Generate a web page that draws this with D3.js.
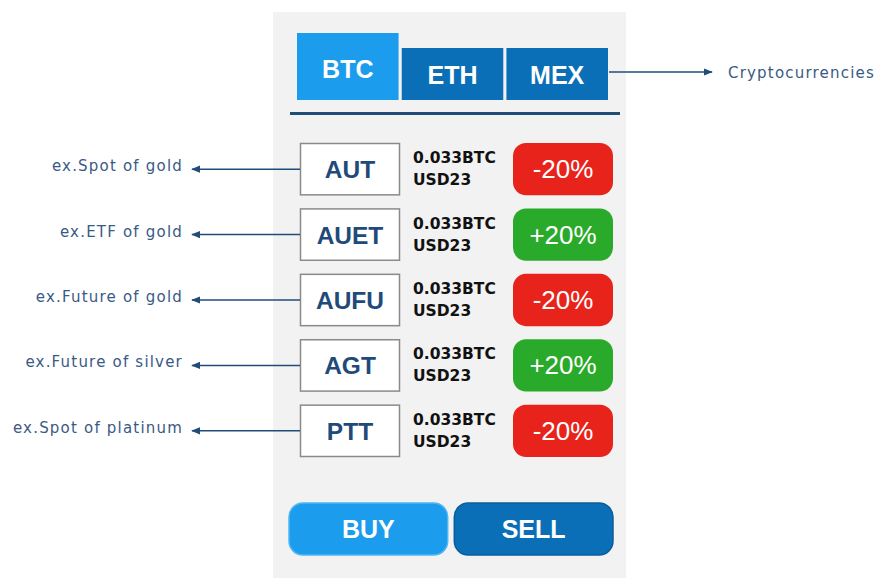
<!DOCTYPE html>
<html>
<head>
<meta charset="utf-8">
<script src="https://cdn.jsdelivr.net/npm/d3@7"></script>
<style>
  html, body { margin: 0; padding: 0; background: #fff; }
  svg text { font-family: "Liberation Sans", Arial, Helvetica, sans-serif; }
  svg text.note { font-family: "DejaVu Sans", sans-serif; }
  svg text.price { font-family: "DejaVu Sans", sans-serif; font-weight: bold; }
</style>
</head>
<body>
<div id="visualization"></div>
<script>
// data
const tabs = ["BTC", "ETH", "MEX"];
const activeTab = "BTC";
const symbols = ["AUT", "AUET", "AUFU", "AGT", "PTT"];
const labels = ["ex.Spot of gold", "ex.ETF of gold", "ex.Future of gold", "ex.Future of silver", "ex.Spot of platinum"];
const pricesBTC = ["0.033BTC", "0.033BTC", "0.033BTC", "0.033BTC", "0.033BTC"];
const pricesUSD = ["USD23", "USD23", "USD23", "USD23", "USD23"];
const changes = [-20, 20, -20, 20, -20];
const actions = ["BUY", "SELL"];
const tabNote = "Cryptocurrencies";

const width = 880, height = 578;
const lightBlue = "#1c9cec", darkBlue = "#0b6fb8", navy = "#1f4d78";

const svg = d3.select("#visualization")
    .append("svg")
        .attr("width", width)
        .attr("height", height);

// arrow head
svg.append("defs").append("marker")
    .attr("id", "arrow")
    .attr("viewBox", "0 0 10 10")
    .attr("refX", 9).attr("refY", 5)
    .attr("markerWidth", 9).attr("markerHeight", 9)
    .attr("markerUnits", "userSpaceOnUse")
    .attr("orient", "auto")
  .append("path")
    .attr("d", "M0,1 L10,5 L0,9 z")
    .attr("fill", navy);

// phone panel
svg.append("rect")
    .attr("x", 273).attr("y", 12)
    .attr("width", 353).attr("height", height - 12)
    .attr("fill", "#f2f2f2");

// tabs
const xTab = d3.scaleBand()
    .domain(tabs)
    .range([297, 608])
    .paddingInner(0.03);

const tab = svg.selectAll(".tab")
    .data(tabs)
    .join("g")
        .attr("class", "tab");

tab.append("rect")
    .attr("x", d => xTab(d))
    .attr("y", d => d === activeTab ? 33 : 48)
    .attr("width", xTab.bandwidth())
    .attr("height", d => d === activeTab ? 67 : 52)
    .attr("fill", d => d === activeTab ? lightBlue : darkBlue);

tab.append("text")
    .attr("x", d => xTab(d) + xTab.bandwidth() / 2)
    .attr("y", d => d === activeTab ? 78 : 84)
    .attr("text-anchor", "middle")
    .attr("fill", "#fff")
    .style("font-size", "25px")
    .style("font-weight", "bold")
    .text(d => d);

// underline
svg.append("rect")
    .attr("x", 290).attr("y", 112)
    .attr("width", 330).attr("height", 3)
    .attr("fill", navy);

// note for tabs
svg.append("line")
    .attr("x1", 609).attr("x2", 712)
    .attr("y1", 72).attr("y2", 72)
    .attr("stroke", navy)
    .attr("stroke-width", 1.5)
    .attr("marker-end", "url(#arrow)");

svg.append("text")
    .attr("class", "note")
    .attr("x", 728).attr("y", 78)
    .attr("fill", "#3a5a84")
    .style("font-size", "15px")
    .style("letter-spacing", "1.2px")
    .text(tabNote);

// rows
const yRow = d3.scaleBand()
    .domain(symbols)
    .range([143, 457])
    .paddingInner(0.2);

const rows = svg.selectAll(".row")
    .data(symbols.map((s, i) => ({
        symbol: s, label: labels[i], btc: pricesBTC[i], usd: pricesUSD[i], change: changes[i]
    })))
    .join("g")
        .attr("class", "row")
        .attr("transform", d => `translate(0, ${yRow(d.symbol)})`);

const bh = yRow.bandwidth();

rows.append("rect")
    .attr("x", 300.5).attr("y", 0.5)
    .attr("width", 99).attr("height", bh - 1)
    .attr("fill", "#fff")
    .attr("stroke", "#8a8a8a")
    .attr("stroke-width", 1.5);

rows.append("text")
    .attr("x", 350).attr("y", bh / 2 + 9)
    .attr("text-anchor", "middle")
    .attr("fill", "#1f4a7a")
    .style("font-size", "24.5px")
    .style("font-weight", "bold")
    .text(d => d.symbol);

rows.append("text")
    .attr("class", "price")
    .attr("x", 413).attr("y", bh / 2 - 6)
    .attr("fill", "#111")
    .style("font-size", "15.5px")
    .text(d => d.btc);

rows.append("text")
    .attr("class", "price")
    .attr("x", 413).attr("y", bh / 2 + 16)
    .attr("fill", "#111")
    .style("font-size", "15.5px")
    .text(d => d.usd);

rows.append("rect")
    .attr("x", 513).attr("y", 0)
    .attr("width", 100).attr("height", bh)
    .attr("rx", 13)
    .attr("fill", d => d.change < 0 ? "#e8231b" : "#2aaa2a");

rows.append("text")
    .attr("x", 563).attr("y", bh / 2 + 9)
    .attr("text-anchor", "middle")
    .attr("fill", "#fff")
    .style("font-size", "26px")
    .text(d => (d.change > 0 ? "+" : "") + d.change + "%");

// annotation arrows
rows.append("line")
    .attr("x1", 300).attr("x2", 192)
    .attr("y1", bh / 2).attr("y2", bh / 2)
    .attr("stroke", navy)
    .attr("stroke-width", 1.5)
    .attr("marker-end", "url(#arrow)");

rows.append("text")
    .attr("class", "note")
    .attr("x", 183).attr("y", bh / 2 + 2)
    .attr("text-anchor", "end")
    .attr("fill", "#3a5a84")
    .style("font-size", "15px")
    .style("letter-spacing", "1.2px")
    .text(d => d.label);

// buttons
const xBtn = d3.scaleBand()
    .domain(actions)
    .range([289, 613])
    .paddingInner(0.04);

const btn = svg.selectAll(".btn")
    .data(actions)
    .join("g")
        .attr("class", "btn");

btn.append("rect")
    .attr("x", d => xBtn(d)).attr("y", 503)
    .attr("width", xBtn.bandwidth()).attr("height", 52)
    .attr("rx", 14)
    .attr("fill", (d, i) => i === 0 ? lightBlue : darkBlue)
    .attr("stroke", (d, i) => i === 0 ? "#4fb6f3" : "#0a5d9c")
    .attr("stroke-width", 1.5);

btn.append("text")
    .attr("x", d => xBtn(d) + xBtn.bandwidth() / 2)
    .attr("y", 538)
    .attr("text-anchor", "middle")
    .attr("fill", "#fff")
    .style("font-size", "25px")
    .style("font-weight", "bold")
    .text(d => d);
</script>
</body>
</html>
